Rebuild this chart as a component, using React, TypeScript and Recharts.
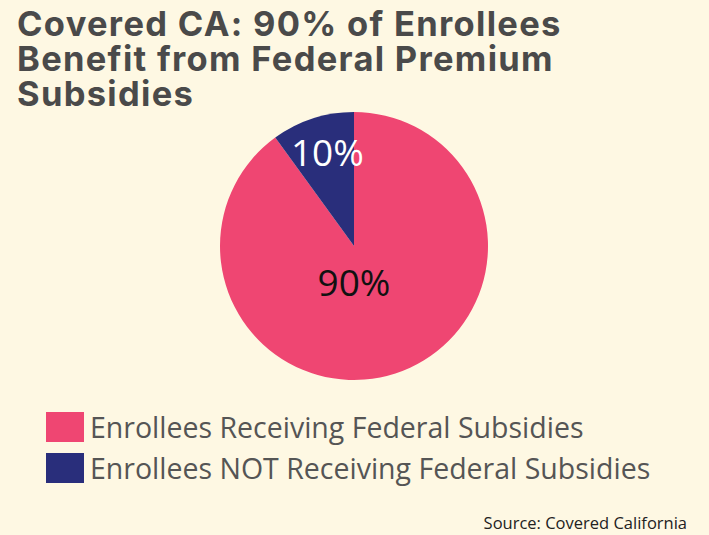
import { PieChart, Pie, Cell, Legend } from 'recharts'

const categories = [
  'Enrollees Receiving Federal Subsidies',
  'Enrollees NOT Receiving Federal Subsidies',
]
const shares = [90, 10]
const sliceLabels = ['90%', '10%']
const colors = ['#EF4672', '#292E7B']

const data = categories.map((name, i) => ({ name, value: shares[i], label: sliceLabels[i] }))

const RAD = Math.PI / 180

// label spots picked to match the original: big slice label sits under centre,
// small slice label sits near its rim (baseline positions)
function renderLabel(props: any) {
  const { cx, cy, outerRadius, midAngle, index } = props
  if (index === 0) {
    return (
      <text x={cx} y={cy + 50} fill="#111" fontSize={37} textAnchor="middle"
        fontFamily="'Open Sans', sans-serif">
        {data[index].label}
      </text>
    )
  }
  const r = outerRadius * 0.66
  const a = (midAngle - 0.5) * RAD
  return (
    <text x={cx + r * Math.cos(a)} y={cy - r * Math.sin(a) + 4} fill="#fff" fontSize={37} textAnchor="middle"
      fontFamily="'Open Sans', sans-serif">
      {data[index].label}
    </text>
  )
}

function LegendBox() {
  return (
    <div style={{ fontFamily: "'Open Sans', sans-serif" }}>
      {data.map((d, i) => (
        <div key={d.name} style={{ display: 'flex', alignItems: 'center', height: 41 }}>
          <div style={{ width: 38, height: 30, background: colors[i], marginRight: 6 }} />
          <span style={{ fontSize: 28.5, color: '#555' }}>{d.name}</span>
        </div>
      ))}
    </div>
  )
}

export default function App() {
  return (
    <div style={{ position: 'fixed', left: 0, top: 0, width: 709, height: 535, background: '#FEF8E3', overflow: 'hidden' }}>
      <div style={{
        position: 'absolute', left: 17, top: 6, width: 690,
        fontFamily: 'Inter, sans-serif', fontWeight: 700, fontSize: 34.5, lineHeight: '35px',
        color: '#4A4A4A', letterSpacing: 1.3,
      }}>
        Covered CA: 90% of Enrollees<br />Benefit from Federal Premium<br />Subsidies
      </div>
      <PieChart width={709} height={535} margin={{ top: 0, right: 0, bottom: 0, left: 0 }}
        style={{ position: 'absolute', left: 0, top: 0 }}>
        <Pie
          data={data}
          dataKey="value"
          nameKey="name"
          cx={354}
          cy={246}
          outerRadius={134}
          startAngle={90}
          endAngle={-270}
          stroke="none"
          label={renderLabel}
          labelLine={false}
          isAnimationActive={false}
        >
          {data.map((d, i) => (
            <Cell key={d.name} fill={colors[i]} />
          ))}
        </Pie>
        <Legend
          content={<LegendBox />}
          layout="horizontal"
          verticalAlign="bottom"
          align="left"
          wrapperStyle={{ position: 'absolute', left: 46, top: 406, width: 620 }}
        />
      </PieChart>
      <div style={{
        position: 'absolute', right: 22, top: 511, fontFamily: "'Open Sans', sans-serif",
        fontSize: 16.5, color: '#222',
      }}>
        Source: Covered California
      </div>
    </div>
  )
}
